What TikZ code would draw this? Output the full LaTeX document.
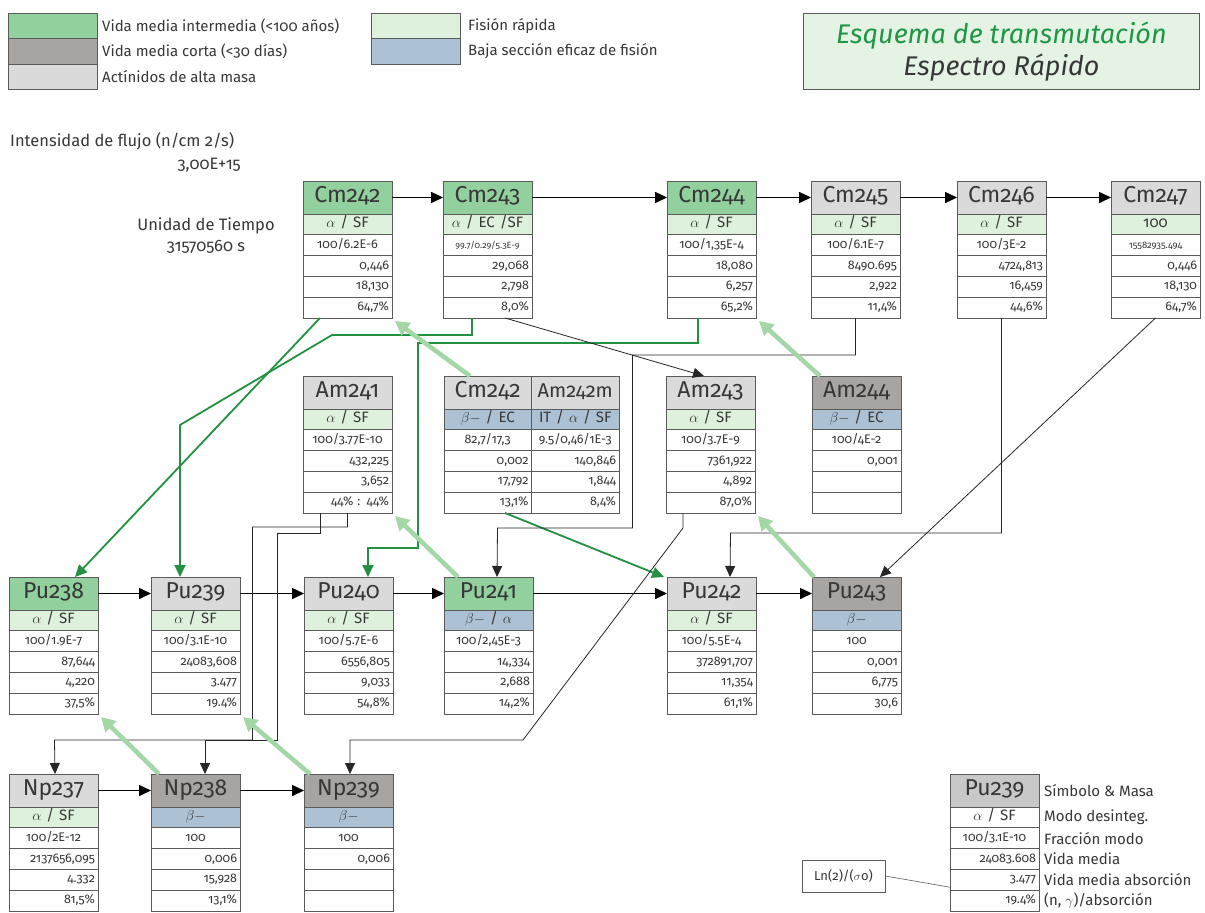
\documentclass[tikz,border=0pt]{standalone}
\usepackage{fontspec}
\setmainfont{Fira Sans}[Numbers=OldStyle]
\usetikzlibrary{arrows.meta,calc}
\definecolor{hgreen}{RGB}{146,208,158}
\definecolor{hdark}{RGB}{168,164,162}
\definecolor{hlight}{RGB}{218,218,218}
\definecolor{mgreen}{RGB}{222,241,220}
\definecolor{mblue}{RGB}{172,193,212}
\definecolor{titlefill}{RGB}{229,243,229}
\definecolor{dgreen}{RGB}{35,145,65}
\definecolor{lgreen}{RGB}{163,216,166}
\definecolor{bordc}{RGB}{90,90,90}
\definecolor{txtc}{RGB}{55,55,55}
\definecolor{leggray}{RGB}{200,200,200}
\definecolor{titlegreen}{RGB}{30,150,70}
\def\cw{89}\def\cwt{83}
\tikzset{
 cellbase/.style={draw=bordc, line width=0.7pt, inner xsep=3pt, inner ysep=0pt, outer sep=0pt, minimum width=\cw pt, text width=\cwt pt, text=txtc},
 hdr/.style={cellbase, minimum height=33pt, text height=15pt, text depth=5pt, font=\fontsize{23}{24}\selectfont, align=center},
 moderow/.style={cellbase, minimum height=20.8pt, text height=10pt, text depth=3pt, font=\fontsize{15}{16}\selectfont, align=center},
 crow/.style={cellbase, fill=white, minimum height=20.8pt, text height=9pt, text depth=3pt, font=\fontsize{12.5}{13}\selectfont, align=center},
 rrow/.style={crow, align=right},
 mainarrow/.style={draw=black, line width=1.6pt, -{Triangle[length=12pt,width=11pt]}},
 thinarrow/.style={draw=black!85, line width=0.8pt, -{Triangle[length=11pt,width=10pt]}},
 garrow/.style={draw=dgreen, line width=1.8pt, -{Triangle[length=12pt,width=11pt]}},
 lgarrow/.style={draw=lgreen, line width=4.5pt, -{Triangle[length=14pt,width=15pt]}},
 swatch/.style={draw=bordc, line width=0.7pt, minimum width=89pt, minimum height=25.5pt, inner sep=0pt, outer sep=0pt},
 legtext/.style={anchor=west, text=txtc, font=\fontsize{15}{16}\selectfont, inner sep=0pt},
 plain/.style={text=txtc, font=\fontsize{16.5}{17}\selectfont, inner sep=0pt},
}
\newcommand\isobox[7]{%
  \node[hdr, fill=#4, anchor=north west] (#1) at (#2,#3) {#5};
  \node[moderow, fill=#6, anchor=north] (#1-m) at (#1.south) {#7};}
\newcommand\isorows[5]{%
  \node[crow, anchor=north] (#1-a) at (#1-m.south) {#2};
  \node[rrow, anchor=north] (#1-b) at (#1-a.south) {#3};
  \node[rrow, anchor=north] (#1-c) at (#1-b.south) {#4};
  \node[rrow, anchor=north] (#1-d) at (#1-c.south) {#5};}
\begin{document}
\begin{tikzpicture}[x=1pt,y=-1pt]
\useasboundingbox[fill=white] (0,0) rectangle (1205,913);

% ---------- legends ----------
\node[swatch, fill=hgreen, anchor=north west] (sw1) at (8,13) {};
\node[swatch, fill=hdark, anchor=north west] (sw2) at (sw1.south west) {};
\node[swatch, fill=hlight, anchor=north west] (sw3) at (sw2.south west) {};
\node[legtext] (lt1) at ($(sw1.east)+(5,0)$) {Vida media intermedia (<100 años)};
\node[legtext] (lt2) at ($(sw2.east)+(5,0)$) {Vida media corta (<30 días)};
\node[legtext] (lt3) at ($(sw3.east)+(5,0)$) {Actínidos de alta masa};
\node[swatch, fill=mgreen, anchor=north west] (sw4) at (371,13) {};
\node[swatch, fill=mblue, anchor=north west] (sw5) at (sw4.south west) {};
\node[legtext] (lt4) at ($(sw4.east)+(8,0)$) {Fisión rápida};
\node[legtext] (lt5) at ($(sw5.east)+(8,0)$) {Baja sección eficaz de fisión};

\node[draw=bordc, line width=0.7pt, fill=titlefill, minimum width=396pt, minimum height=76pt, anchor=north west, align=center, font=\fontsize{27}{32}\selectfont\itshape, inner sep=0pt] (title) at (803,13)
 {\textcolor{titlegreen}{Esquema de transmutación}\\\textcolor{txtc}{Espectro Rápido}};

\node[plain, anchor=west] (flux) at (10,141) {Intensidad de flujo (n/cm 2/s)};
\node[plain, anchor=east] (fluxv) at (241,165) {3,00E+15};
\node[plain] (tu) at (206,226) {Unidad de Tiempo};
\node[plain] (tuv) at (206,247) {31570560 s};

% ---------- top row ----------
\isobox{cm242}{303}{181}{hgreen}{Cm242}{mgreen}{$\alpha$ / SF}
\isorows{cm242}{100/6.2E-6}{0,446}{18,130}{64,7\%}
\isobox{cm243}{443}{181}{hgreen}{Cm243}{mgreen}{$\alpha$ / EC /SF}
\isorows{cm243}{\fontsize{9}{10}\selectfont 99.7/0.29/5.3E-9}{29,068}{2,798}{8,0\%}
\isobox{cm244}{667}{181}{hgreen}{Cm244}{mgreen}{$\alpha$ / SF}
\isorows{cm244}{100/1,35E-4}{18,080}{6,257}{65,2\%}
\isobox{cm245}{811}{181}{hlight}{Cm245}{mgreen}{$\alpha$ / SF}
\isorows{cm245}{100/6.1E-7}{8490.695}{2,922}{11,4\%}
\isobox{cm246}{957}{181}{hlight}{Cm246}{mgreen}{$\alpha$ / SF}
\isorows{cm246}{100/3E-2}{4724,813}{16,459}{44,6\%}
\isobox{cm247}{1111}{181}{hlight}{Cm247}{mgreen}{100}
\isorows{cm247}{\fontsize{9.5}{10}\selectfont 15582935.494}{0,446}{18,130}{64,7\%}

% ---------- middle row ----------
\isobox{am241}{303}{376}{hlight}{Am241}{mgreen}{$\alpha$ / SF}
\isorows{am241}{100/3.77E-10}{432,225}{3,652}{44\% : 44\%}
\def\cw{87.5}\def\cwt{81.5}
\isobox{am242}{444}{376}{hlight}{Cm242}{mblue}{$\beta-$ / EC}
\isorows{am242}{82,7/17,3}{0,002}{17,792}{13,1\%}
\isobox{am242m}{531.5}{376}{hlight}{\fontsize{20}{22}\selectfont Am242m}{mblue}{IT / $\alpha$ / SF}
\isorows{am242m}{9.5/0,46/1E-3}{140,846}{1,844}{8,4\%}
\def\cw{89}\def\cwt{83}
\isobox{am243}{666}{376}{hlight}{Am243}{mgreen}{$\alpha$ / SF}
\isorows{am243}{100/3.7E-9}{7361,922}{4,892}{87,0\%}
\isobox{am244}{812}{376}{hdark}{Am244}{mblue}{$\beta-$ / EC}
\isorows{am244}{100/4E-2}{0,001}{}{}

% ---------- Pu row ----------
\isobox{pu238}{9}{577}{hgreen}{Pu238}{mgreen}{$\alpha$ / SF}
\isorows{pu238}{100/1.9E-7}{87,644}{4,220}{37,5\%}
\isobox{pu239}{151}{577}{hlight}{Pu239}{mgreen}{$\alpha$ / SF}
\isorows{pu239}{100/3.1E-10}{24083,608}{3.477}{19.4\%}
\isobox{pu240}{304}{577}{hlight}{Pu240}{mgreen}{$\alpha$ / SF}
\isorows{pu240}{100/5.7E-6}{6556,805}{9,033}{54,8\%}
\isobox{pu241}{444}{577}{hgreen}{Pu241}{mblue}{$\beta-$ / $\alpha$}
\isorows{pu241}{100/2,45E-3}{14,334}{2,688}{14,2\%}
\isobox{pu242}{667}{577}{hlight}{Pu242}{mgreen}{$\alpha$ / SF}
\isorows{pu242}{100/5.5E-4}{372891,707}{11,354}{61,1\%}
\isobox{pu243}{812}{577}{hdark}{Pu243}{mblue}{$\beta-$}
\isorows{pu243}{100}{0,001}{6,775}{30,6}

% ---------- Np row ----------
\isobox{np237}{9}{774}{hlight}{Np237}{mgreen}{$\alpha$ / SF}
\isorows{np237}{100/2E-12}{2137656,095}{4.332}{81,5\%}
\isobox{np238}{151}{774}{hdark}{Np238}{mblue}{$\beta-$}
\isorows{np238}{100}{0,006}{15,928}{13,1\%}
\isobox{np239}{304}{774}{hdark}{Np239}{mblue}{$\beta-$}
\isorows{np239}{100}{0,006}{}{}

% ---------- legend box ----------
\isobox{leg}{950}{774}{leggray}{Pu239}{white}{$\alpha$ / SF}
\isorows{leg}{100/3.1E-10}{24083.608}{3.477}{19.4\%}
\node[legtext] at ($(leg.east)+(5,0)$) {Símbolo \& Masa};
\node[legtext] at ($(leg-m.east)+(5,0)$) {Modo desinteg.};
\node[legtext] at ($(leg-a.east)+(5,0)$) {Fracción modo};
\node[legtext] at ($(leg-b.east)+(5,0)$) {Vida media};
\node[legtext] at ($(leg-c.east)+(5,0)$) {Vida media absorción};
\node[legtext] at ($(leg-d.east)+(5,0)$) {(n, $\gamma$)/absorción};
\node[draw=bordc, line width=0.7pt, minimum width=83pt, minimum height=32pt, text=txtc, font=\fontsize{13}{14}\selectfont, inner sep=0pt] (lnbox) at (843.5,876) {Ln(2)/($\sigma$o)};
\draw[bordc, line width=0.6pt] (lnbox.east) -- ($(leg-c.south west)+(0,-3)$);

% ---------- main capture arrows ----------
\draw[mainarrow] (cm242) -- (cm243);
\draw[mainarrow] (cm243) -- (cm244);
\draw[mainarrow] (cm244) -- (cm245);
\draw[mainarrow] (cm245) -- (cm246);
\draw[mainarrow] (cm246) -- (cm247);
\draw[mainarrow] (pu238) -- (pu239);
\draw[mainarrow] (pu239) -- (pu240);
\draw[mainarrow] (pu240) -- (pu241);
\draw[mainarrow] (pu241) -- (pu242);
\draw[mainarrow] (pu242) -- (pu243);
\draw[mainarrow] (np237) -- (np238);
\draw[mainarrow] (np238) -- (np239);

% ---------- alpha decays (green) ----------
\draw[garrow] ($(cm242-d.south west)+(17,0)$) -- ($(pu238.north west)+(66,0)$);
\draw[garrow] ($(cm243-d.south west)+(29,0)$) -- ++(0,17) -- ++(-140,0) -- ++(-152,90) -- ($(pu239.north west)+(29,0)$);
\draw[garrow] ($(cm244-d.south west)+(31,0)$) -- ++(0,25) -- ++(-280,0) -- ++(0,205) -- ++(-50,0) -- ($(pu240.north west)+(64,0)$);
\draw[garrow] ($(am242-d.south west)+(61,0)$) -- ($(pu242.north west)+(-3,0)$);

% ---------- thin decay connectors ----------
\draw[thinarrow] ($(cm243-d.south west)+(62,0)$) -- ($(am243.north west)+(38,0)$);
\draw[thinarrow] (cm245-d.south) -- ++(0,37) -- ++(-223,0) -- ++(0,173) -- ++(-135,0) -- ($(pu241.north west)+(53,0)$);
\draw[thinarrow] (cm246-d.south) -- ++(0,215) -- ++(-271,0) -- ($(pu242.north west)+(63,0)$);
\draw[thinarrow] (cm247-d.south) -- ($(pu243.north east)+(-21,0)$);
\draw[thinarrow] (am241-d.south) -- ++(0,14) -- ++(-95,0) -- ++(0,213) -- ++(-198,0) -- ($(np237.north west)+(46,0)$);
\draw[thinarrow] ($(am241-d.south west)+(17,0)$) -- ++(0,20) -- ++(-43,0) -- ++(0,207) -- ++(-72,0) -- ($(np238.north west)+(54,0)$);
\draw[thinarrow] ($(am243-d.south west)+(17,0)$) -- ++(0,15) -- ++(-160,212) -- ++(-173,0) -- ($(np239.north west)+(46,0)$);

% ---------- beta decays (light green) ----------
\draw[lgarrow] ($(am242.north west)+(26,0)$) -- ($(cm242-d.south east)+(3,3)$);
\draw[lgarrow] ($(am244.north west)+(8,0)$) -- ($(cm244-d.south east)+(3,3)$);
\draw[lgarrow] ($(pu241.north west)+(14,0)$) -- ($(am241-d.south east)+(3,3)$);
\draw[lgarrow] ($(pu243.north west)+(2,0)$) -- ($(am243-d.south east)+(3,3)$);
\draw[lgarrow] ($(np238.north west)+(8,0)$) -- ($(pu238-d.south east)+(3,3)$);
\draw[lgarrow] ($(np239.north west)+(6,0)$) -- ($(pu239-d.south east)+(3,3)$);
\end{tikzpicture}
\end{document}
